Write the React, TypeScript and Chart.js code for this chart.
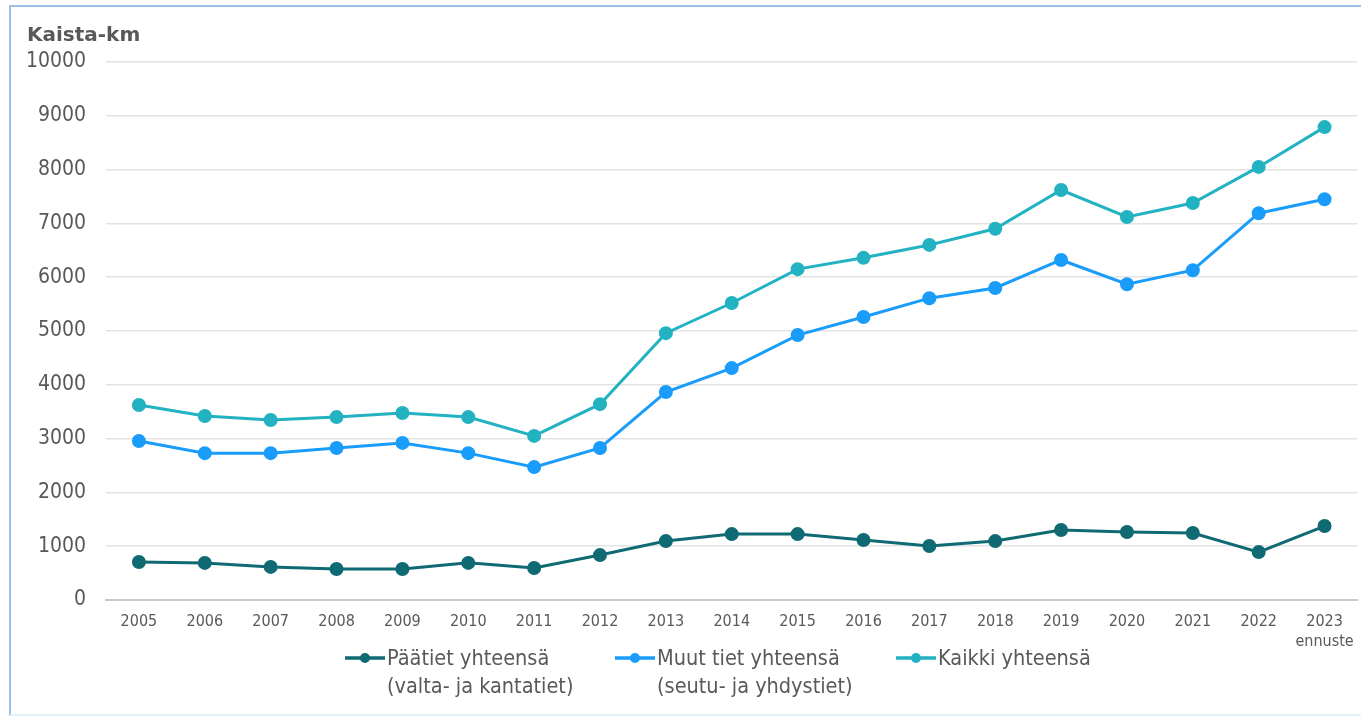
import React, { useEffect, useRef } from "react";
import { Chart, registerables } from "chart.js";

Chart.register(...registerables);

const years: (string | string[])[] = [
  "2005", "2006", "2007", "2008", "2009", "2010", "2011", "2012", "2013", "2014",
  "2015", "2016", "2017", "2018", "2019", "2020", "2021", "2022", ["2023", "ennuste"],
];

const paatiet = [705, 690, 615, 575, 575, 690, 595, 835, 1095, 1225, 1225, 1115, 1005, 1095, 1300, 1265, 1245, 890, 1375];
const muut = [2955, 2730, 2730, 2825, 2920, 2730, 2470, 2825, 3865, 4310, 4925, 5260, 5610, 5800, 6320, 5870, 6130, 7190, 7450];
const kaikki = [3625, 3420, 3345, 3400, 3475, 3400, 3050, 3640, 4960, 5520, 6150, 6360, 6600, 6900, 7620, 7120, 7380, 8050, 8790];

const seriesLabels = [
  ["Päätiet yhteensä", "(valta- ja kantatiet)"],
  ["Muut tiet yhteensä", "(seutu- ja yhdystiet)"],
  ["Kaikki yhteensä"],
];
const colors = ["#0f6a73", "#1a9cfa", "#22b2c2"];
const legendX = [345, 615, 896];

const COND = "'DejaVu Sans Condensed', 'DejaVu Sans', sans-serif";
const TEXT = "#595959";

export default function App() {
  const ref = useRef<HTMLCanvasElement | null>(null);

  useEffect(() => {
    if (!ref.current) return;
    const mk = (label: string, data: number[], c: string) => ({
      label,
      data,
      borderColor: c,
      backgroundColor: c,
      pointBackgroundColor: c,
      pointBorderColor: c,
      borderWidth: 3,
      pointRadius: 5.5,
      pointHoverRadius: 5.5,
      tension: 0,
    });
    const chart = new Chart(ref.current, {
      type: "line",
      data: {
        labels: years,
        datasets: [
          mk(seriesLabels[0].join(" "), paatiet, colors[0]),
          mk(seriesLabels[1].join(" "), muut, colors[1]),
          mk(seriesLabels[2].join(" "), kaikki, colors[2]),
        ],
      },
      options: {
        animation: false,
        responsive: false,
        maintainAspectRatio: false,
        layout: { padding: { top: 62, left: 0, right: 4, bottom: 0 } },
        plugins: { legend: { display: false }, tooltip: { enabled: false }, title: { display: false } },
        scales: {
          x: {
            offset: true,
            grid: { display: false, drawTicks: false },
            border: { display: true, color: "#c8c8c8", width: 2 },
            ticks: {
              color: TEXT,
              font: { family: COND, size: 16, lineHeight: 1.25 },
              padding: 12,
              maxRotation: 0,
              autoSkip: false,
            },
            afterFit: (s: any) => { s.height = 116; },
          },
          y: {
            min: 0,
            max: 10000,
            grid: {
              drawTicks: false,
              color: (ctx: any) => (ctx.tick && ctx.tick.value === 0 ? "#c8c8c8" : "#e3e3e3"),
              lineWidth: (ctx: any) => (ctx.tick && ctx.tick.value === 0 ? 2 : 1.5),
            },
            border: { display: false },
            ticks: {
              stepSize: 1000,
              color: TEXT,
              font: { family: COND, size: 21 },
              padding: 20,
              callback: (v: any) => String(v),
            },
            afterFit: (s: any) => { s.width = 106; },
          },
        },
      },
    });
    return () => chart.destroy();
  }, []);

  return (
    <div style={{ position: "fixed", left: 0, top: 0, width: 1361, height: 716, background: "#fff", overflow: "hidden" }}>
      <div style={{ position: "absolute", left: 9, top: 5, width: 1400, height: 707, borderTop: "2px solid #9dc1e3", borderLeft: "2px solid #9dc1e3", borderBottom: "2px solid #e3f1f8" }} />
      <canvas ref={ref} width={1366} height={716} style={{ position: "absolute", left: 0, top: 0, width: 1366, height: 716 }} />
      <div style={{ position: "absolute", left: 27, top: 21, fontFamily: "'DejaVu Sans', sans-serif", fontWeight: "bold", fontSize: 20, color: TEXT, lineHeight: "26px" }}>
        Kaista-km
      </div>
      {seriesLabels.map((lines, i) => (
        <div key={i} style={{ position: "absolute", left: legendX[i], top: 644, display: "flex", alignItems: "flex-start" }}>
          <svg width={40} height={28} style={{ flex: "none" }}>
            <line x1={0} y1={14} x2={40} y2={14} stroke={colors[i]} strokeWidth={3.5} />
            <circle cx={20} cy={14} r={5} fill={colors[i]} />
          </svg>
          <div style={{ marginLeft: 2, fontFamily: COND, fontSize: 21.5, lineHeight: "28px", color: TEXT, whiteSpace: "nowrap" }}>
            {lines.map((l, j) => (<div key={j}>{l}</div>))}
          </div>
        </div>
      ))}
    </div>
  );
}
